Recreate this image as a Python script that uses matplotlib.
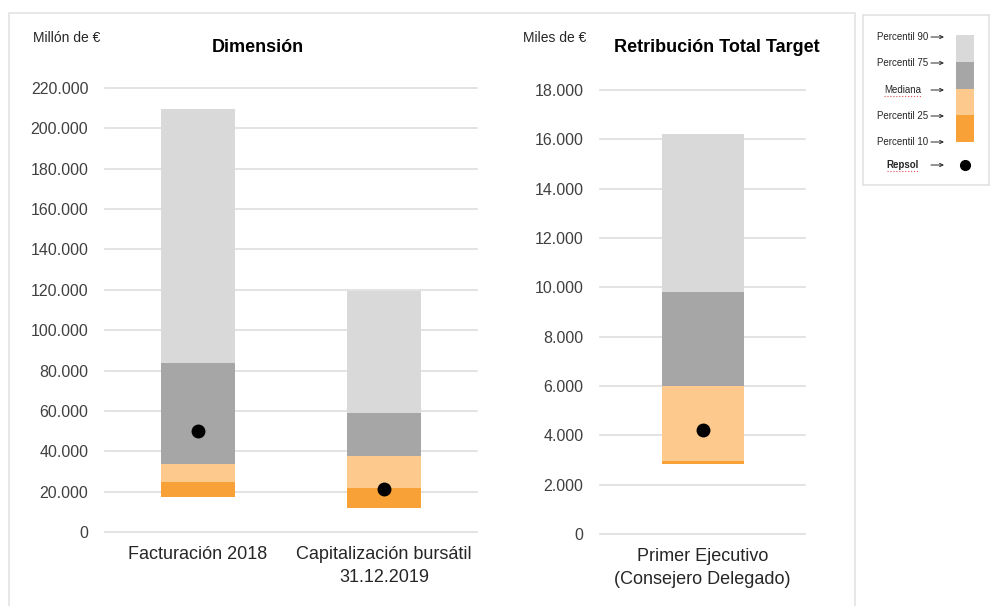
import matplotlib.pyplot as plt
from matplotlib.patches import Rectangle
from matplotlib.ticker import FuncFormatter

plt.rcParams['font.family'] = ['Liberation Sans', 'DejaVu Sans']

# Dimension (millones de euros)
dim_cats = ["Facturación 2018", "Capitalización bursátil\n31.12.2019"]
dim_p10 = [17300, 11900]
dim_p25 = [24800, 21800]
dim_med = [33700, 37600]
dim_p75 = [83700, 58900]
dim_p90 = [209400, 119300]
dim_repsol = [50000, 21300]

# Retribucion total target (miles de euros)
rtt_cats = ["Primer Ejecutivo\n(Consejero Delegado)"]
rtt_p10 = [2850]
rtt_p25 = [2950]
rtt_med = [6000]
rtt_p75 = [9800]
rtt_p90 = [16200]
rtt_repsol = [4200]

legend_labels = ["Percentil 90", "Percentil 75", "Mediana", "Percentil 25", "Percentil 10", "Repsol"]

c_p90 = "#d9d9d9"
c_p75 = "#a6a6a6"
c_med = "#fdc98c"
c_p25 = "#f8a137"
grid_c = "#dedede"
txt_c = "#262626"

W, H = 990, 606
fig = plt.figure(figsize=(9.9, 6.06), dpi=100)


def fig_box(x0, y0, x1, y1):
    return [x0 / W, 1 - y1 / H, (x1 - x0) / W, (y1 - y0) / H]


def es_fmt(v, pos):
    return f"{v:,.0f}".replace(",", ".")


def draw_bars(ax, cats, p10, p25, med, p75, p90, repsol, ymax, step):
    x = list(range(len(cats)))
    w = 0.4
    ax.bar(x, [b - a for a, b in zip(p10, p25)], bottom=p10, width=w, color=c_p25, zorder=2)
    ax.bar(x, [b - a for a, b in zip(p25, med)], bottom=p25, width=w, color=c_med, zorder=2)
    ax.bar(x, [b - a for a, b in zip(med, p75)], bottom=med, width=w, color=c_p75, zorder=2)
    ax.bar(x, [b - a for a, b in zip(p75, p90)], bottom=p75, width=w, color=c_p90, zorder=2)
    ax.plot(x, repsol, "o", color="black", markersize=9, zorder=3)
    ax.set_xlim(-0.5, len(cats) - 0.5)
    ax.set_ylim(0, ymax)
    ax.set_yticks(range(0, ymax + 1, step))
    ax.yaxis.set_major_formatter(FuncFormatter(es_fmt))
    ax.grid(axis="y", color=grid_c, linewidth=1.2, zorder=0)
    ax.set_axisbelow(True)
    for s in ax.spines.values():
        s.set_visible(False)
    ax.tick_params(axis="y", length=0, pad=12, labelsize=11.5, labelcolor="#404040")
    ax.tick_params(axis="x", length=0, pad=10, labelsize=13, labelcolor=txt_c)
    ax.set_xticks(x)
    ax.set_xticklabels(cats, linespacing=1.45)
    for gl in ax.get_ygridlines():
        gl.set_clip_on(False)


ax1 = fig.add_axes(fig_box(105, 88, 477, 532))
draw_bars(ax1, dim_cats, dim_p10, dim_p25, dim_med, dim_p75, dim_p90, dim_repsol, 220000, 20000)

ax2 = fig.add_axes(fig_box(600, 90, 805, 534))
draw_bars(ax2, rtt_cats, rtt_p10, rtt_p25, rtt_med, rtt_p75, rtt_p90, rtt_repsol, 18000, 2000)

# titles and units
fig.text(258 / W, 1 - 48 / H, "Dimensión", ha="center", va="center", fontsize=13, fontweight="bold", color="black")
fig.text(717 / W, 1 - 48 / H, "Retribución Total Target", ha="center", va="center", fontsize=13, fontweight="bold", color="black")
fig.text(33 / W, 1 - 38 / H, "Millón de €", ha="left", va="center", fontsize=10, color=txt_c)
fig.text(523 / W, 1 - 38 / H, "Miles de €", ha="left", va="center", fontsize=10, color=txt_c)

# outer frame
fig.add_artist(Rectangle((9 / W, -0.01), (855 - 9) / W, 1 - 13 / H + 0.01, transform=fig.transFigure,
                         fill=False, edgecolor="#e3e3e3", linewidth=1.2))

# custom legend box
lg = fig.add_axes(fig_box(863, 15, 989, 185))
lg.set_xlim(863, 989)
lg.set_ylim(185, 15)
lg.set_xticks([])
lg.set_yticks([])
for s in lg.spines.values():
    s.set_edgecolor("#e3e3e3")
    s.set_linewidth(1.2)

sw_edges = [35, 62, 89, 115, 142]
sw_colors = [c_p90, c_p75, c_med, c_p25]
for i, c in enumerate(sw_colors):
    lg.bar(965, sw_edges[i + 1] - sw_edges[i], bottom=sw_edges[i], width=18, color=c)
lg.plot(965, 165, "o", color="black", markersize=7)

label_y = [37, 63, 90, 116, 142, 165]
for lab, y in zip(legend_labels, label_y):
    bold = lab == "Repsol"
    lg.text(903, y, lab, ha="center", va="center", fontsize=7, color=txt_c,
            fontweight="bold" if bold else "normal")
    lg.annotate("", xy=(944, y), xytext=(931, y),
                arrowprops=dict(arrowstyle="->", color=txt_c, lw=0.7, shrinkA=0, shrinkB=0,
                                mutation_scale=6))
    if lab in ("Mediana", "Repsol"):
        half = 19 if lab == "Mediana" else 16
        lg.plot([903 - half, 903 + half], [y + 6, y + 6], color="#e05050", linewidth=0.8, linestyle=":")

fig.savefig("out.png", dpi=100)
